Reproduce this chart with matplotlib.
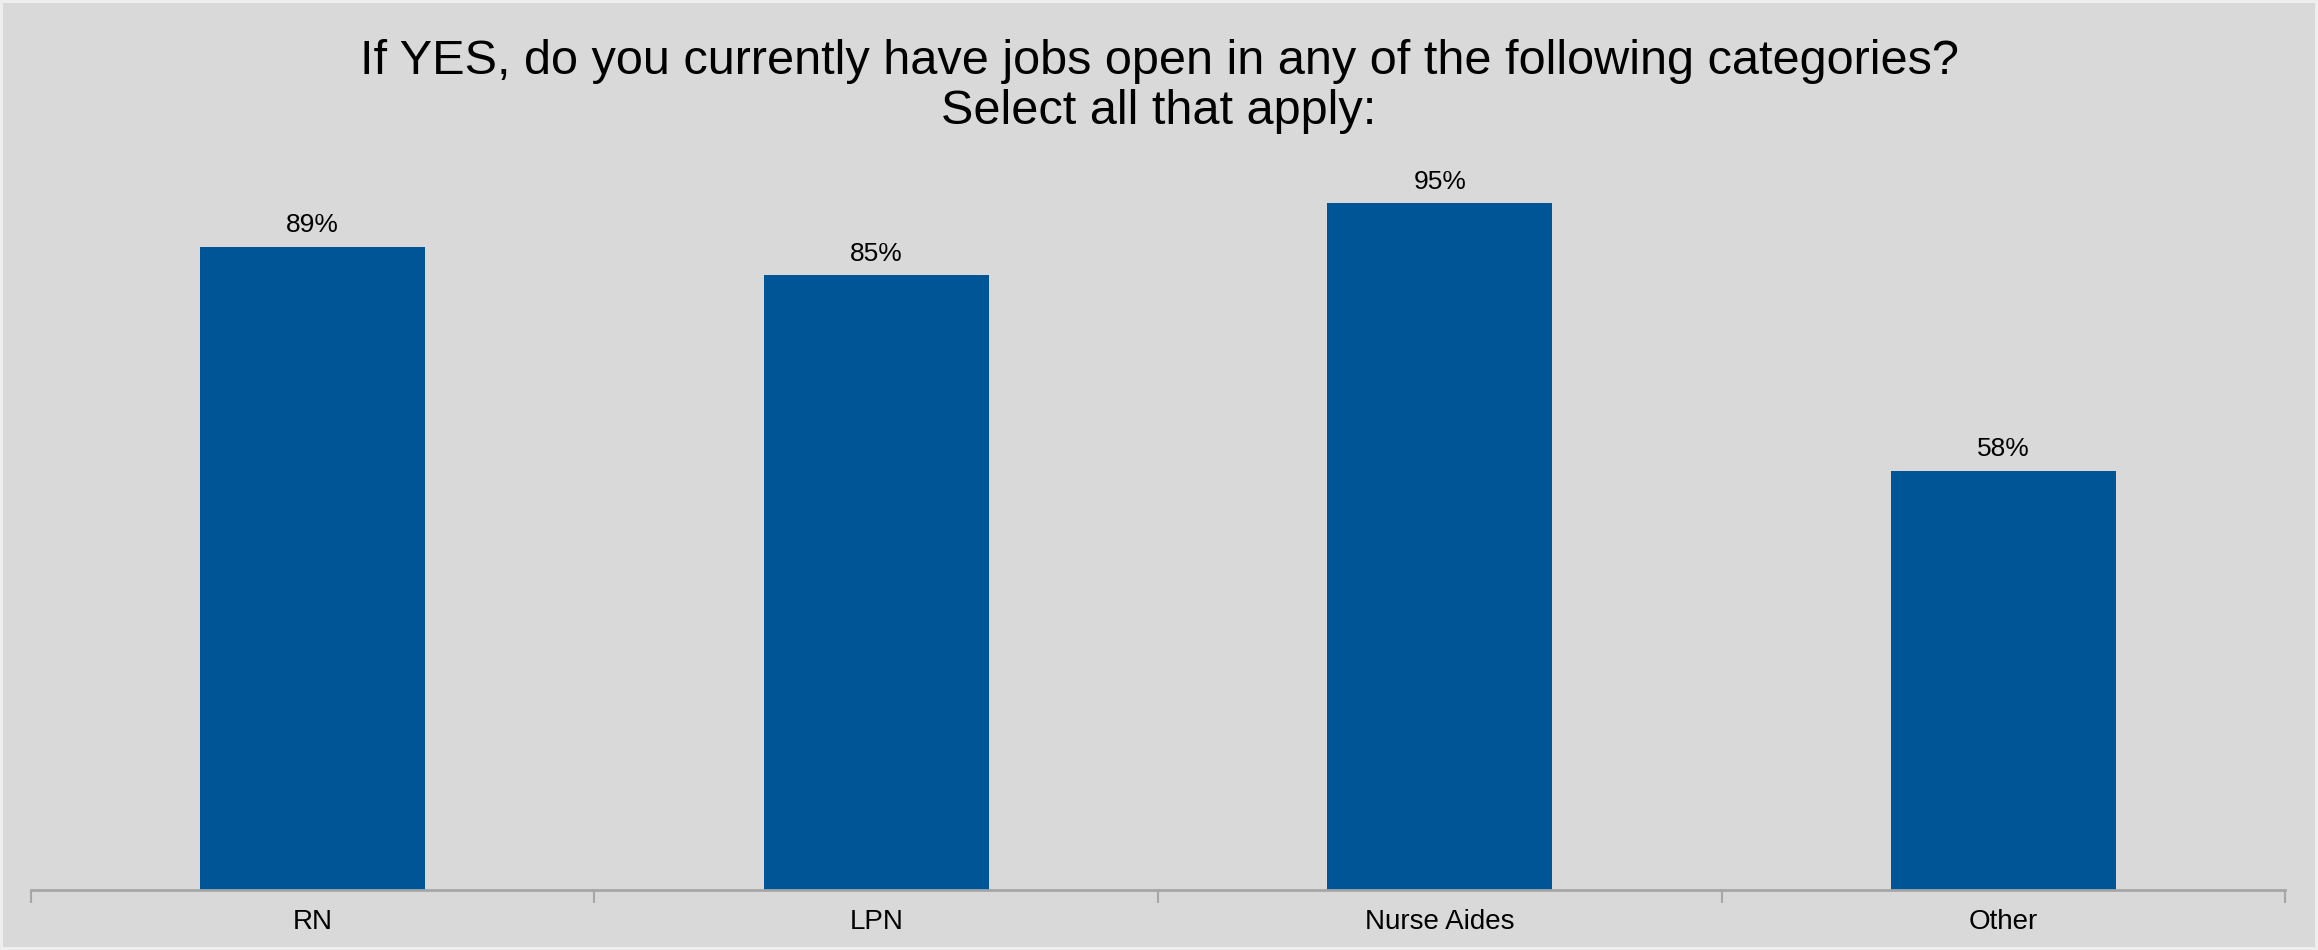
import matplotlib
matplotlib.use('Agg')
import matplotlib.pyplot as plt
from matplotlib.ticker import FixedLocator

categories = ['RN', 'LPN', 'Nurse Aides', 'Other']
values = [89, 85, 95, 58]
value_labels = ['89%', '85%', '95%', '58%']
title = 'If YES, do you currently have jobs open in any of the following categories?\nSelect all that apply:'

plt.rcParams['font.family'] = ['Liberation Sans', 'DejaVu Sans']

bg = '#D9D9D9'
bar_color = '#005596'
axis_color = '#A6A6A6'

fig = plt.figure(figsize=(23.18, 9.5), dpi=100)
fig.patch.set_facecolor(bg)
fig.patch.set_edgecolor('#EEEEEE')
fig.patch.set_linewidth(4)

ax = fig.add_axes([0.01337, 0.0632, 0.9724, 0.761])
ax.set_facecolor(bg)

x = list(range(len(categories)))
bars = ax.bar(x, values, width=0.4, color=bar_color)

# etiquetas de valor acima das barras
for xi, v, lab in zip(x, values, value_labels):
    ax.text(xi, v + 1.3, lab, ha='center', va='bottom', fontsize=19, color='black')

ax.set_xlim(-0.5, len(categories) - 0.5)
ax.set_ylim(0, 100)

for side in ['left', 'right', 'top']:
    ax.spines[side].set_visible(False)
ax.spines['bottom'].set_color(axis_color)
ax.spines['bottom'].set_linewidth(2)

ax.set_yticks([])
ax.set_xticks(x)
ax.set_xticklabels(categories, fontsize=20)
ax.tick_params(axis='x', which='major', length=0, pad=14)
ax.xaxis.set_minor_locator(FixedLocator([i - 0.5 for i in range(len(categories) + 1)]))
ax.tick_params(axis='x', which='minor', length=9, width=1.5, color=axis_color)

fig.text(0.5, 0.909, title, ha='center', va='center', fontsize=35, linespacing=1.15)

fig.savefig('out.png', dpi=100, facecolor=bg, edgecolor=fig.get_edgecolor())
